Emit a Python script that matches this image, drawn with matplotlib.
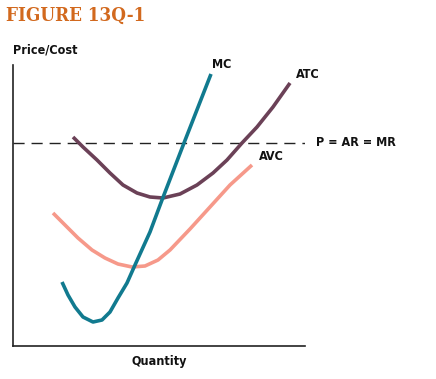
import matplotlib.pyplot as plt

# values (quantity, cost)
mc_q = [49, 55, 62, 70, 80, 89, 97, 105, 114, 122, 137, 149, 171, 198]
mc_c = [64, 51, 39, 29, 24, 26, 34, 48, 63, 81, 114, 146, 203, 272]

atc_q = [60, 70, 84, 97, 110, 124, 137, 150, 167, 184, 200, 214, 229, 244, 260, 277]
atc_c = [209, 199, 186, 173, 161, 153, 149, 148, 152, 161, 173, 186, 203, 219, 239, 263]

avc_q = [40, 52, 65, 79, 92, 105, 119, 132, 145, 157, 177, 197, 217, 239]
avc_c = [133, 121, 108, 96, 88, 82, 79, 80, 86, 96, 117, 139, 161, 181]

price = 203

W, H = 436, 379
fig = plt.figure(figsize=(W / 100, H / 100), dpi=100)
ax = fig.add_axes([13 / W, 1 - 346 / H, 292 / W, 281 / H])
ax.set_xlim(0, 292)
ax.set_ylim(0, 281)

ax.axhline(price, color='#222222', lw=1.0, dashes=(8, 5))
line = dict(lw=2.6, solid_capstyle='butt', solid_joinstyle='round')
ax.plot(avc_q, avc_c, color='#f6998a', **line)
ax.plot(atc_q, atc_c, color='#6b4157', **line)
ax.plot(mc_q, mc_c, color='#117a8f', **line)

for s in ['top', 'right']:
    ax.spines[s].set_visible(False)
for s in ['left', 'bottom']:
    ax.spines[s].set_color('#222222')
    ax.spines[s].set_linewidth(1.2)
ax.set_xticks([])
ax.set_yticks([])

lab = dict(fontsize=9, fontweight='bold', family=['DejaVu Sans'], fontstretch='condensed',
           color='#111111', va='center')
ax.text(199, 282, 'MC', ha='left', clip_on=False, **lab)
ax.text(283, 271, 'ATC', ha='left', clip_on=False, **lab)
ax.text(246, 190, 'AVC', ha='left', clip_on=False, **lab)
ax.text(303, 203, 'P = AR = MR', ha='left', clip_on=False, **lab)

fig.text(13 / W, 1 - 50 / H, 'Price/Cost', ha='left', **lab)
fig.text(159 / W, 1 - 362 / H, 'Quantity', ha='center', **lab)

fig.text(6 / W, 1 - 16 / H, 'FIGURE 13Q-1', ha='left', va='center', fontsize=13.5,
         fontweight='bold', family=['DejaVu Serif'], fontstretch='condensed', color='#d2691e')

fig.savefig('out.png', dpi=100)
